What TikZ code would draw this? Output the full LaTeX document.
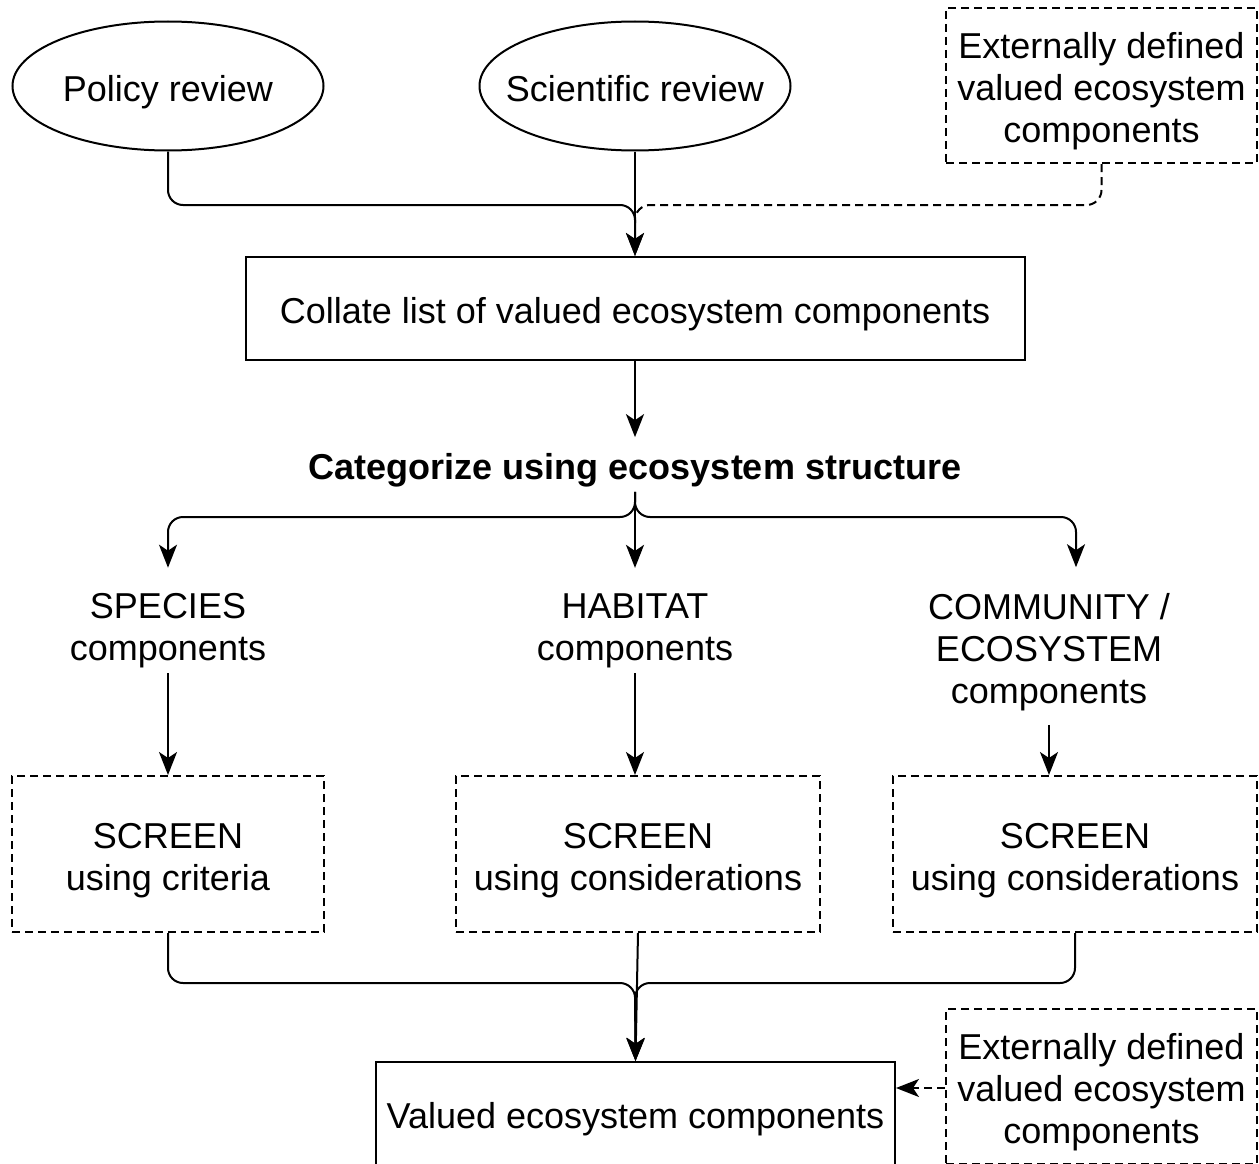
\documentclass[tikz,border=0pt]{standalone}
\usepackage{fontspec}
\setmainfont{Liberation Sans}
\usetikzlibrary{arrows.meta,shapes.geometric,calc}
\newcommand\mystrut{\rule[-8pt]{0pt}{46pt}}
\newcommand\mystrutb{\rule[-8pt]{0pt}{42pt}}
\begin{document}
\begin{tikzpicture}[x=1pt,y=1pt,line width=2pt,
  font=\fontsize{36}{42}\selectfont,
  arr/.style={-{Stealth[length=23pt,width=18pt,inset=6pt]}},
  dsh/.style={dash pattern=on 8pt off 5pt},
  ell/.style={ellipse,draw,minimum width=311pt,minimum height=129pt,inner sep=0pt,inner xsep=-20pt,align=center},
  sbox/.style={draw,rectangle,inner sep=0pt,align=center},
  dbox/.style={draw,rectangle,dsh,inner sep=0pt,align=center},
  txt/.style={inner sep=0pt,align=center},
  rc/.style={rounded corners=15pt}]
\useasboundingbox (0,0) rectangle (1259,-1164);

% top
\node[ell] (pol) at (168,-86) {\mystrut Policy review};
\node[ell] (sci) at (635,-86) {\mystrut Scientific review};
\node[dbox,minimum width=311pt,minimum height=155pt] (ext1) at (1101.5,-85.5) {\mystrut Externally defined\\valued ecosystem\\components};
\node[sbox,minimum width=779pt,minimum height=103pt] (col) at (635,-308.5) {\mystrut Collate list of valued ecosystem components};

\coordinate (j1) at (635,-205);
\draw[dsh,rc] (ext1.south) |- (j1) -- ++(0,-18);
\draw[arr,rc] (pol.south) |- (j1) -- (col.north);
\draw[arr] (sci.south) -- (col.north);

% categorize
\node[txt,font=\fontsize{36}{42}\selectfont\bfseries] (cat) at (635,-470) {Categorize using ecosystem structure};
\draw[arr] (col.south) -- ([yshift=15pt]cat.north);

\node[txt] (spe) at (168,-631) {SPECIES\\components};
\node[txt] (hab) at (635,-631) {HABITAT\\components};
\node[txt] (com) at (1049,-652) {COMMUNITY /\\ECOSYSTEM\\components};

\coordinate (j2) at (635,-517);
\draw[arr,rc] ([yshift=-4pt]cat.south) -- (j2) -| ([yshift=25pt]spe.north);
\draw[arr,rc] ([yshift=-4pt]cat.south) -- (j2) -| ([yshift=25pt]com.north -| 1076,0);
\draw[arr] ([yshift=-4pt]cat.south) -- ([yshift=25pt]hab.north);

% screens
\node[dbox,minimum width=312pt,minimum height=156pt] (scr1) at (168,-854) {\mystrut SCREEN\\using criteria};
\node[dbox,minimum width=364pt,minimum height=156pt] (scr2) at (638,-854) {\mystrut SCREEN\\using considerations};
\node[dbox,minimum width=364pt,minimum height=156pt] (scr3) at (1075,-854) {\mystrut SCREEN\\using considerations};

\draw[arr] ([yshift=-4pt]spe.south) -- (spe.south |- scr1.north);
\draw[arr] ([yshift=-4pt]hab.south) -- (hab.south |- scr2.north);
\draw[arr] ([yshift=-13pt]com.south) -- (com.south |- scr3.north);

% bottom
\node[sbox,minimum width=519pt,minimum height=106pt] (val) at (635.5,-1115) {\mystrutb Valued ecosystem components};
\node[dbox,minimum width=311pt,minimum height=155pt] (ext2) at (1101.5,-1086.5) {\mystrut Externally defined\\valued ecosystem\\components};

\coordinate (j3) at (635,-983);
\draw[arr,rc] (scr1.south) |- (j3) -- (val.north);
\draw[arr,rc] (scr3.south) |- (j3) -- (val.north);
\draw[arr] (scr2.south) -- (val.north);
\draw[arr,dsh] ([yshift=-1.5pt]ext2.west) -- ([yshift=-1.5pt]ext2.west -| val.east);
\end{tikzpicture}
\end{document}
